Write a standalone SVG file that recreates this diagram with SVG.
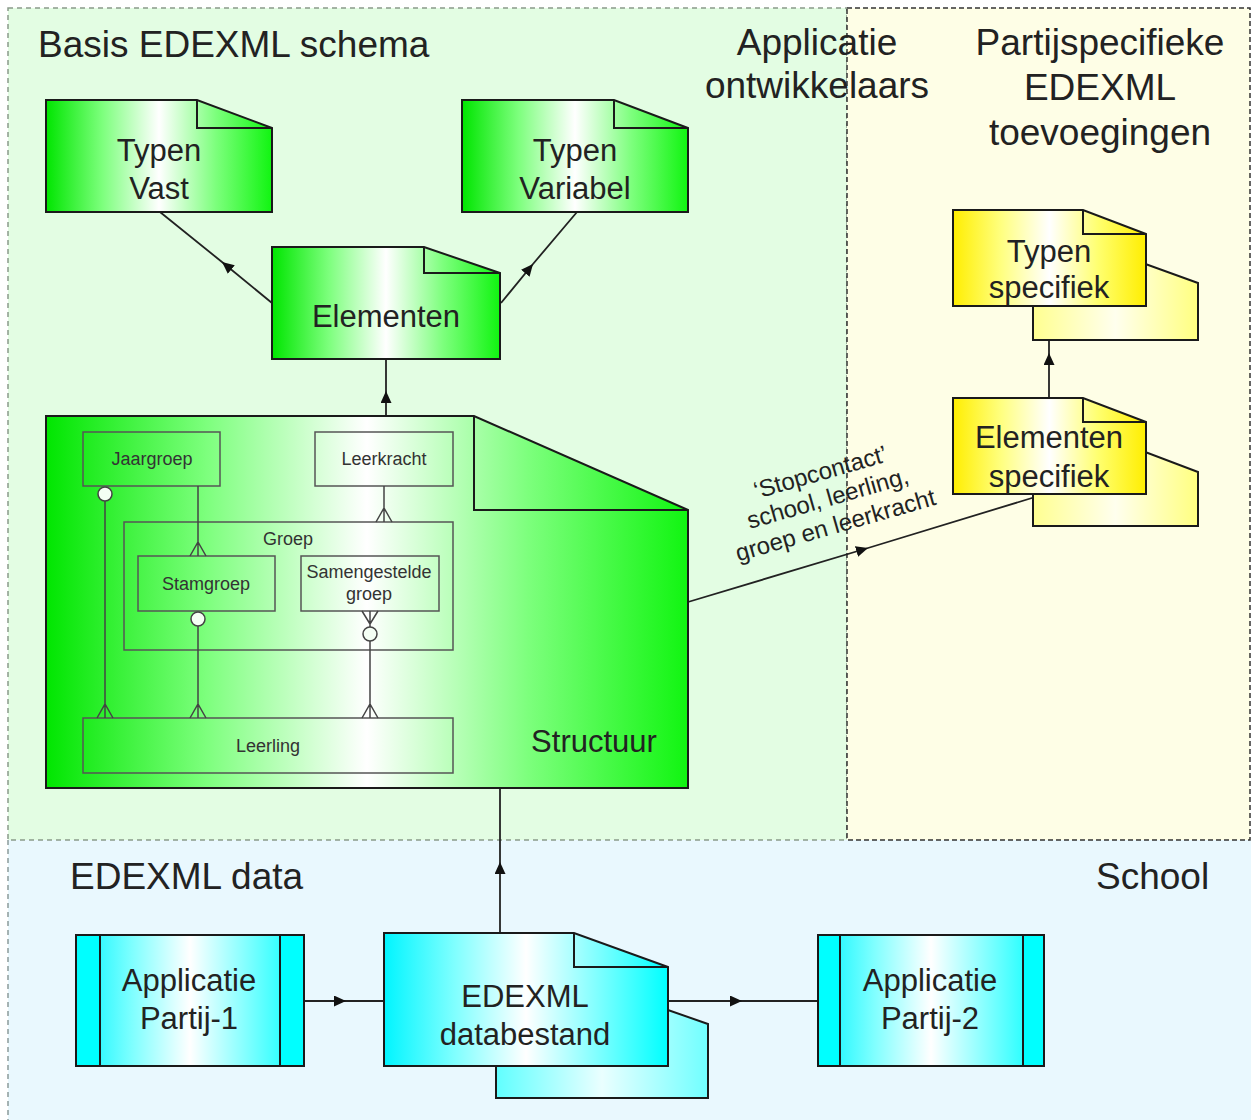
<svg xmlns="http://www.w3.org/2000/svg" width="1251" height="1120" viewBox="0 0 1251 1120">
<defs>
<linearGradient id="gGreen" x1="0" y1="0" x2="1" y2="0">
<stop offset="0" stop-color="#00e600"/><stop offset="0.25" stop-color="#7dff7d"/><stop offset="0.5" stop-color="#ffffff"/><stop offset="0.75" stop-color="#7dff7d"/><stop offset="1" stop-color="#11f511"/>
</linearGradient>
<linearGradient id="gYellow" x1="0" y1="0" x2="1" y2="0">
<stop offset="0" stop-color="#ffee00"/><stop offset="0.25" stop-color="#ffff80"/><stop offset="0.5" stop-color="#ffffff"/><stop offset="0.75" stop-color="#ffff70"/><stop offset="1" stop-color="#ffee00"/>
</linearGradient>
<linearGradient id="gYellowB" x1="0" y1="0" x2="1" y2="0">
<stop offset="0" stop-color="#ffff90"/><stop offset="0.5" stop-color="#ffffee"/><stop offset="1" stop-color="#ffff80"/>
</linearGradient>
<linearGradient id="gCyan" x1="0" y1="0" x2="1" y2="0">
<stop offset="0" stop-color="#00f5ff"/><stop offset="0.25" stop-color="#80ffff"/><stop offset="0.5" stop-color="#ffffff"/><stop offset="0.75" stop-color="#80ffff"/><stop offset="1" stop-color="#00ffff"/>
</linearGradient>
<linearGradient id="gCyanB" x1="0" y1="0" x2="1" y2="0">
<stop offset="0" stop-color="#60ffff"/><stop offset="0.5" stop-color="#eaffff"/><stop offset="1" stop-color="#70ffff"/>
</linearGradient>
<marker id="arr" markerUnits="userSpaceOnUse" markerWidth="14" markerHeight="12" refX="12" refY="5.5" orient="auto">
<path d="M0,0 L12,5.5 L0,11 Z" fill="#111"/>
</marker>
<style>
.t{font-family:"Liberation Sans",Arial,sans-serif;fill:#222}
.title{font-size:37px}
.lbl{font-size:31px;text-anchor:middle}
.er{font-size:18px;text-anchor:middle;fill:#333}
.node{stroke:#1a1a1a;stroke-width:2}
.fold{fill:none;stroke:#1a1a1a;stroke-width:2}
.erbox{fill:none;stroke:#555;stroke-width:1.5}
.erl{fill:none;stroke:#444;stroke-width:1.5}
.circ{fill:#f4fff4;stroke:#444;stroke-width:1.5}
.conn{stroke:#222;stroke-width:1.8;fill:none}
</style>
</defs>

<g id="regions">
<rect x="8" y="840" width="1243" height="280" fill="#e9f8fe"/>
<path d="M8,840 V1120" fill="none" stroke="#8a9a9a" stroke-width="1.5" stroke-dasharray="5,4"/>
<rect x="8" y="8" width="839" height="832" fill="#e3fde3" stroke="#8a9a8a" stroke-width="1.5" stroke-dasharray="5,4"/>
<rect x="847" y="8" width="403" height="832" fill="#fefee6" stroke="#333" stroke-width="1.5" stroke-dasharray="5,3"/>
<text class="t title" x="38" y="57">Basis EDEXML schema</text>
<text class="t title" text-anchor="middle"><tspan x="817" y="55">Applicatie</tspan><tspan x="817" y="98">ontwikkelaars</tspan></text>
<text class="t title" text-anchor="middle"><tspan x="1100" y="55">Partijspecifieke</tspan><tspan x="1100" y="100">EDEXML</tspan><tspan x="1100" y="145">toevoegingen</tspan></text>
<text class="t title" x="70" y="889">EDEXML data</text>
<text class="t title" x="1096" y="889">School</text>
</g>

<g id="connectors">
<path class="conn" d="M272,303 L222,262 L160,212" marker-mid="url(#arr)"/>
<path class="conn" d="M501,303 L533,264 L577,212" marker-mid="url(#arr)"/>
<path class="conn" d="M386,416 L386,391 L386,359" marker-mid="url(#arr)"/>
<path class="conn" d="M688,602 L868,548 L1045,494" marker-mid="url(#arr)"/>
<path class="conn" d="M500,933 L500,862 L500,788" marker-mid="url(#arr)"/>
<path class="conn" d="M1049,398 L1049,353 L1049,306" marker-mid="url(#arr)"/>
<path class="conn" d="M304,1001 L346,1001 L384,1001" marker-mid="url(#arr)"/>
<path class="conn" d="M668,1001 L742,1001 L818,1001" marker-mid="url(#arr)"/>
<text class="t" font-size="24" text-anchor="middle" transform="translate(830,506) rotate(-16)"><tspan x="0" y="-27">‘Stopcontact’</tspan><tspan x="0" y="0">school, leerling,</tspan><tspan x="0" y="28">groep en leerkracht</tspan></text>
</g>

<g id="typen-vast">
<path class="node" fill="url(#gGreen)" d="M46,100 H197 L272,128 V212 H46 Z"/>
<path class="fold" d="M197,100 V128 H272"/>
<text class="t lbl"><tspan x="159" y="161">Typen</tspan><tspan x="159" y="199">Vast</tspan></text>
</g>

<g id="typen-variabel">
<path class="node" fill="url(#gGreen)" d="M462,100 H614 L688,128 V212 H462 Z"/>
<path class="fold" d="M614,100 V128 H688"/>
<text class="t lbl"><tspan x="575" y="161">Typen</tspan><tspan x="575" y="199">Variabel</tspan></text>
</g>

<g id="elementen">
<path class="node" fill="url(#gGreen)" d="M272,247 H424 L500,273 V359 H272 Z"/>
<path class="fold" d="M424,247 V273 H500"/>
<text class="t lbl" x="386" y="327">Elementen</text>
</g>

<g id="structuur">
<path class="node" fill="url(#gGreen)" d="M46,416 H474 L688,510 V788 H46 Z"/>
<path class="fold" d="M474,416 V510 H688"/>
<text class="t lbl" x="594" y="752">Structuur</text>
<g id="er-model">
<rect class="erbox" x="83" y="432" width="137" height="54"/>
<text class="t er" x="152" y="465">Jaargroep</text>
<rect class="erbox" x="315" y="432" width="138" height="54"/>
<text class="t er" x="384" y="465">Leerkracht</text>
<rect class="erbox" x="124" y="522" width="329" height="128"/>
<text class="t er" x="288" y="545">Groep</text>
<rect class="erbox" x="138" y="556" width="137" height="55"/>
<text class="t er" x="206" y="590">Stamgroep</text>
<rect class="erbox" x="301" y="556" width="138" height="55"/>
<text class="t er" font-size="17"><tspan x="369" y="578">Samengestelde</tspan><tspan x="369" y="600">groep</tspan></text>
<rect class="erbox" x="83" y="718" width="370" height="55"/>
<text class="t er" x="268" y="752">Leerling</text>
<path class="erl" d="M105,501 V718 M97,718 L105,704 L113,718"/>
<circle class="circ" cx="105" cy="494" r="7"/>
<path class="erl" d="M198,486 V556 M190,556 L198,542 L206,556"/>
<path class="erl" d="M384,486 V522 M376,522 L384,508 L392,522"/>
<path class="erl" d="M198,626 V718 M190,718 L198,704 L206,718"/>
<circle class="circ" cx="198" cy="619" r="7"/>
<path class="erl" d="M370,611 V627 M362,611 L370,624 L378,611 M370,641 V718 M362,718 L370,704 L378,718"/>
<circle class="circ" cx="370" cy="634" r="7"/>
</g>
</g>

<g id="typen-specifiek">
<path class="node" fill="url(#gYellowB)" stroke-width="1.5" d="M1033,262 H1140 L1198,283 V340 H1033 Z"/>
<path class="node" fill="url(#gYellow)" d="M953,210 H1083 L1146,234 V306 H953 Z"/>
<path class="fold" d="M1083,210 V234 H1146"/>
<text class="t lbl"><tspan x="1049" y="262">Typen</tspan><tspan x="1049" y="298">specifiek</tspan></text>
</g>

<g id="elementen-specifiek">
<path class="node" fill="url(#gYellowB)" stroke-width="1.5" d="M1033,450 H1140 L1198,472 V526 H1033 Z"/>
<path class="node" fill="url(#gYellow)" d="M953,398 H1083 L1146,422 V494 H953 Z"/>
<path class="fold" d="M1083,398 V422 H1146"/>
<text class="t lbl"><tspan x="1049" y="448">Elementen</tspan><tspan x="1049" y="487">specifiek</tspan></text>
</g>

<g id="edexml-databestand">
<path class="node" fill="url(#gCyanB)" stroke-width="1.5" d="M496,1010 H668 L708,1024 V1098 H496 Z"/>
<path class="node" fill="url(#gCyan)" d="M384,933 H574 L668,967 V1066 H384 Z"/>
<path class="fold" d="M574,933 V967 H668"/>
<text class="t lbl"><tspan x="525" y="1007">EDEXML</tspan><tspan x="525" y="1045">databestand</tspan></text>
</g>

<g id="applicatie-partij-1">
<rect class="node" x="76" y="935" width="228" height="131" fill="url(#gCyan)"/>
<rect class="node" x="76" y="935" width="24" height="131" fill="#00ffff"/>
<rect class="node" x="280" y="935" width="24" height="131" fill="#00ffff"/>
<text class="t lbl"><tspan x="189" y="991">Applicatie</tspan><tspan x="189" y="1029">Partij-1</tspan></text>
</g>

<g id="applicatie-partij-2">
<rect class="node" x="818" y="935" width="226" height="131" fill="url(#gCyan)"/>
<rect class="node" x="818" y="935" width="22" height="131" fill="#00ffff"/>
<rect class="node" x="1023" y="935" width="21" height="131" fill="#00ffff"/>
<text class="t lbl"><tspan x="930" y="991">Applicatie</tspan><tspan x="930" y="1029">Partij-2</tspan></text>
</g>
</svg>
